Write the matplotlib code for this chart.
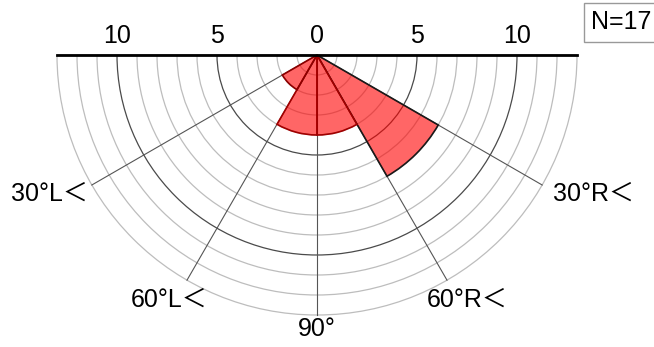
import matplotlib
matplotlib.use("Agg")
import matplotlib.pyplot as plt
from matplotlib.patches import Wedge
import numpy as np

# sector bins, degrees measured clockwise (downward) from the right horizontal
bin_edges = [0, 30, 60, 90, 120, 150, 180]
counts = [0, 7, 4, 4, 2, 0]
n_total = "N=17"

rings = list(range(1, 14))
major_rings = [5, 10]
spoke_angles = [30, 60, 90, 120, 150]
top_ticks = [-10, -5, 0, 5, 10]
top_labels = ["10", "5", "0", "5", "10"]
spoke_labels = ["30°R＜", "60°R＜", "90°", "60°L＜", "30°L＜"]

plt.rcParams["font.family"] = ["Liberation Sans Narrow", "Liberation Sans",
                               "Noto Sans CJK JP", "DejaVu Sans"]

fig = plt.figure(figsize=(6.54, 3.47), dpi=100)
ax = fig.add_axes([0, 0, 1, 1])
# 20 px per unit, centre of the fan at pixel (317, 55)
ax.set_xlim(-317 / 20, (654 - 317) / 20)
ax.set_ylim(-(347 - 55) / 20, 55 / 20)
ax.set_aspect("equal")
ax.axis("off")

R = rings[-1]

# grid circles (lower half)
for r in rings:
    major = r in major_rings
    ax.add_patch(Wedge((0, 0), r, 180, 360, fill=False,
                       edgecolor="#4a4a4a" if major else "#bdbdbd",
                       lw=0.9, zorder=1))

# spokes
for a in spoke_angles:
    t = np.deg2rad(-a)
    ax.plot([0, R * np.cos(t)], [0, R * np.sin(t)], color="#555555", lw=0.8, zorder=1)

# sectors
edge_cols = ["black", "#1a1a1a", "#a00000", "#a00000", "#8b0000", "black"]
for i, c in enumerate(counts):
    if c == 0:
        continue
    ax.add_patch(Wedge((0, 0), c, -bin_edges[i + 1], -bin_edges[i],
                       facecolor=(1, 0, 0, 0.6), edgecolor=edge_cols[i],
                       lw=1.2, zorder=3))

# top axis line and labels
ax.plot([-R, R], [0, 0], color="black", lw=2, zorder=4)
for x, lab in zip(top_ticks, top_labels):
    ax.text(x, 0.95, lab, ha="center", va="center", fontsize=18)

# spoke labels
pos = [(11.8, -6.95, "left"), (7.5, -12.25, "center"), (0, -13.7, "center"),
       (-7.4, -12.25, "center"), (-11.45, -6.95, "right")]
for (x, y, ha), lab in zip(pos, spoke_labels):
    ax.text(x, y, lab, ha=ha, va="center", fontsize=18)

fig.text(591 / 654, 1 - 22 / 347, n_total, ha="left", va="center", fontsize=18,
         bbox=dict(boxstyle="square,pad=0.3", facecolor="white", edgecolor="#999999", lw=1))

fig.savefig("out.png", dpi=100)
